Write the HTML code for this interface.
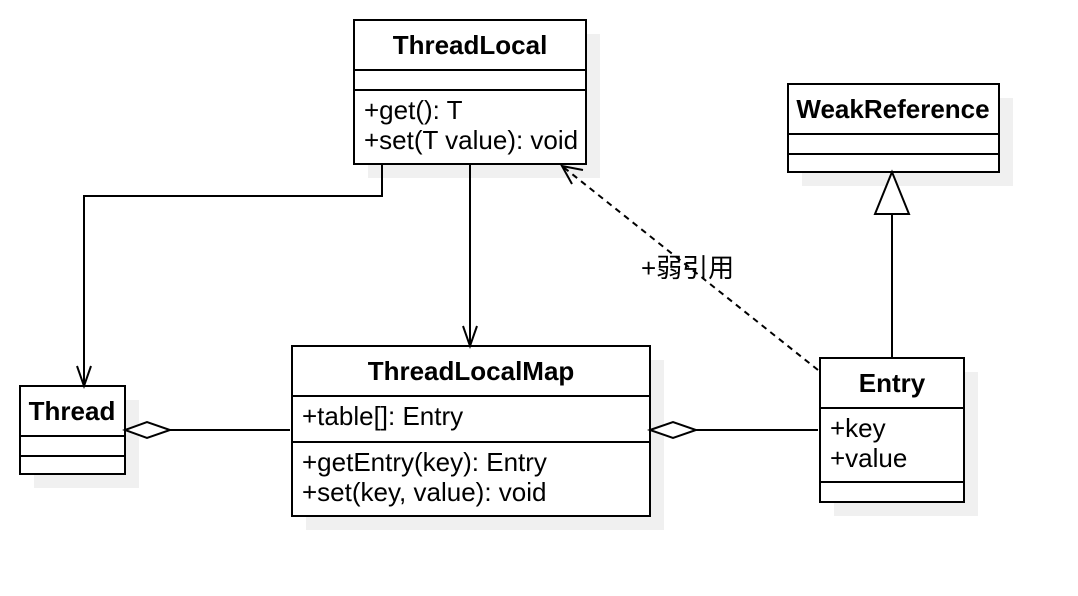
<!DOCTYPE html>
<html><head><meta charset="utf-8"><style>
html,body{margin:0;padding:0;background:#fff;width:1078px;height:596px;overflow:hidden}
text{font-family:"Liberation Sans","Noto Sans CJK SC",sans-serif;font-size:26px;fill:#000}
.b{font-weight:bold}
</style></head><body>
<svg width="1078" height="596" xmlns="http://www.w3.org/2000/svg">
<g fill="#f0f0f0" stroke="none">
<rect x="368" y="34" width="232" height="144"/>
<rect x="802" y="98" width="211" height="88"/>
<rect x="34" y="400" width="105" height="88"/>
<rect x="306" y="360" width="358" height="170"/>
<rect x="834" y="372" width="144" height="144"/>
</g>
<g fill="#fff" stroke="#000" stroke-width="2">
<rect x="354" y="20" width="232" height="144"/>
<line x1="354" y1="70" x2="586" y2="70"/><line x1="354" y1="90" x2="586" y2="90"/>
<rect x="788" y="84" width="211" height="88"/>
<line x1="788" y1="134" x2="999" y2="134"/><line x1="788" y1="154" x2="999" y2="154"/>
<rect x="20" y="386" width="105" height="88"/>
<line x1="20" y1="436" x2="125" y2="436"/><line x1="20" y1="456" x2="125" y2="456"/>
<rect x="292" y="346" width="358" height="170"/>
<line x1="292" y1="396" x2="650" y2="396"/><line x1="292" y1="442" x2="650" y2="442"/>
<rect x="820" y="358" width="144" height="144"/>
<line x1="820" y1="408" x2="964" y2="408"/><line x1="820" y1="482" x2="964" y2="482"/>
</g>
<g fill="none" stroke="#000" stroke-width="2">
<polyline points="382,164 382,196 84,196 84,386"/>
<polyline points="77,366 84,386 91,366"/>
<line x1="470" y1="164" x2="470" y2="346"/>
<polyline points="463,326 470,346 477,326"/>
<line x1="818" y1="370" x2="562" y2="166" stroke-dasharray="6,5"/>
<polyline points="583,170 562,166 572,184"/>
<line x1="892" y1="214" x2="892" y2="358"/>
<polygon points="892,172 875,214 909,214" fill="#fff"/>
<line x1="170" y1="430" x2="290" y2="430"/>
<polygon points="125,430 147,422 170,430 147,438" fill="#fff"/>
<line x1="696" y1="430" x2="818" y2="430"/>
<polygon points="650,430 673,422 696,430 673,438" fill="#fff"/>
</g>
<text class="b" x="470" y="54" text-anchor="middle">ThreadLocal</text>
<text x="364" y="119">+get(): T</text>
<text x="364" y="149">+set(T value): void</text>
<text class="b" x="893" y="118" text-anchor="middle">WeakReference</text>
<text class="b" x="72" y="420" text-anchor="middle">Thread</text>
<text class="b" x="471" y="380" text-anchor="middle">ThreadLocalMap</text>
<text x="302" y="425">+table[]: Entry</text>
<text x="302" y="471">+getEntry(key): Entry</text>
<text x="302" y="501">+set(key, value): void</text>
<text class="b" x="892" y="392" text-anchor="middle">Entry</text>
<text x="830" y="437">+key</text>
<text x="830" y="467">+value</text>
<text x="641" y="277">+弱引用</text>
</svg>
</body></html>
